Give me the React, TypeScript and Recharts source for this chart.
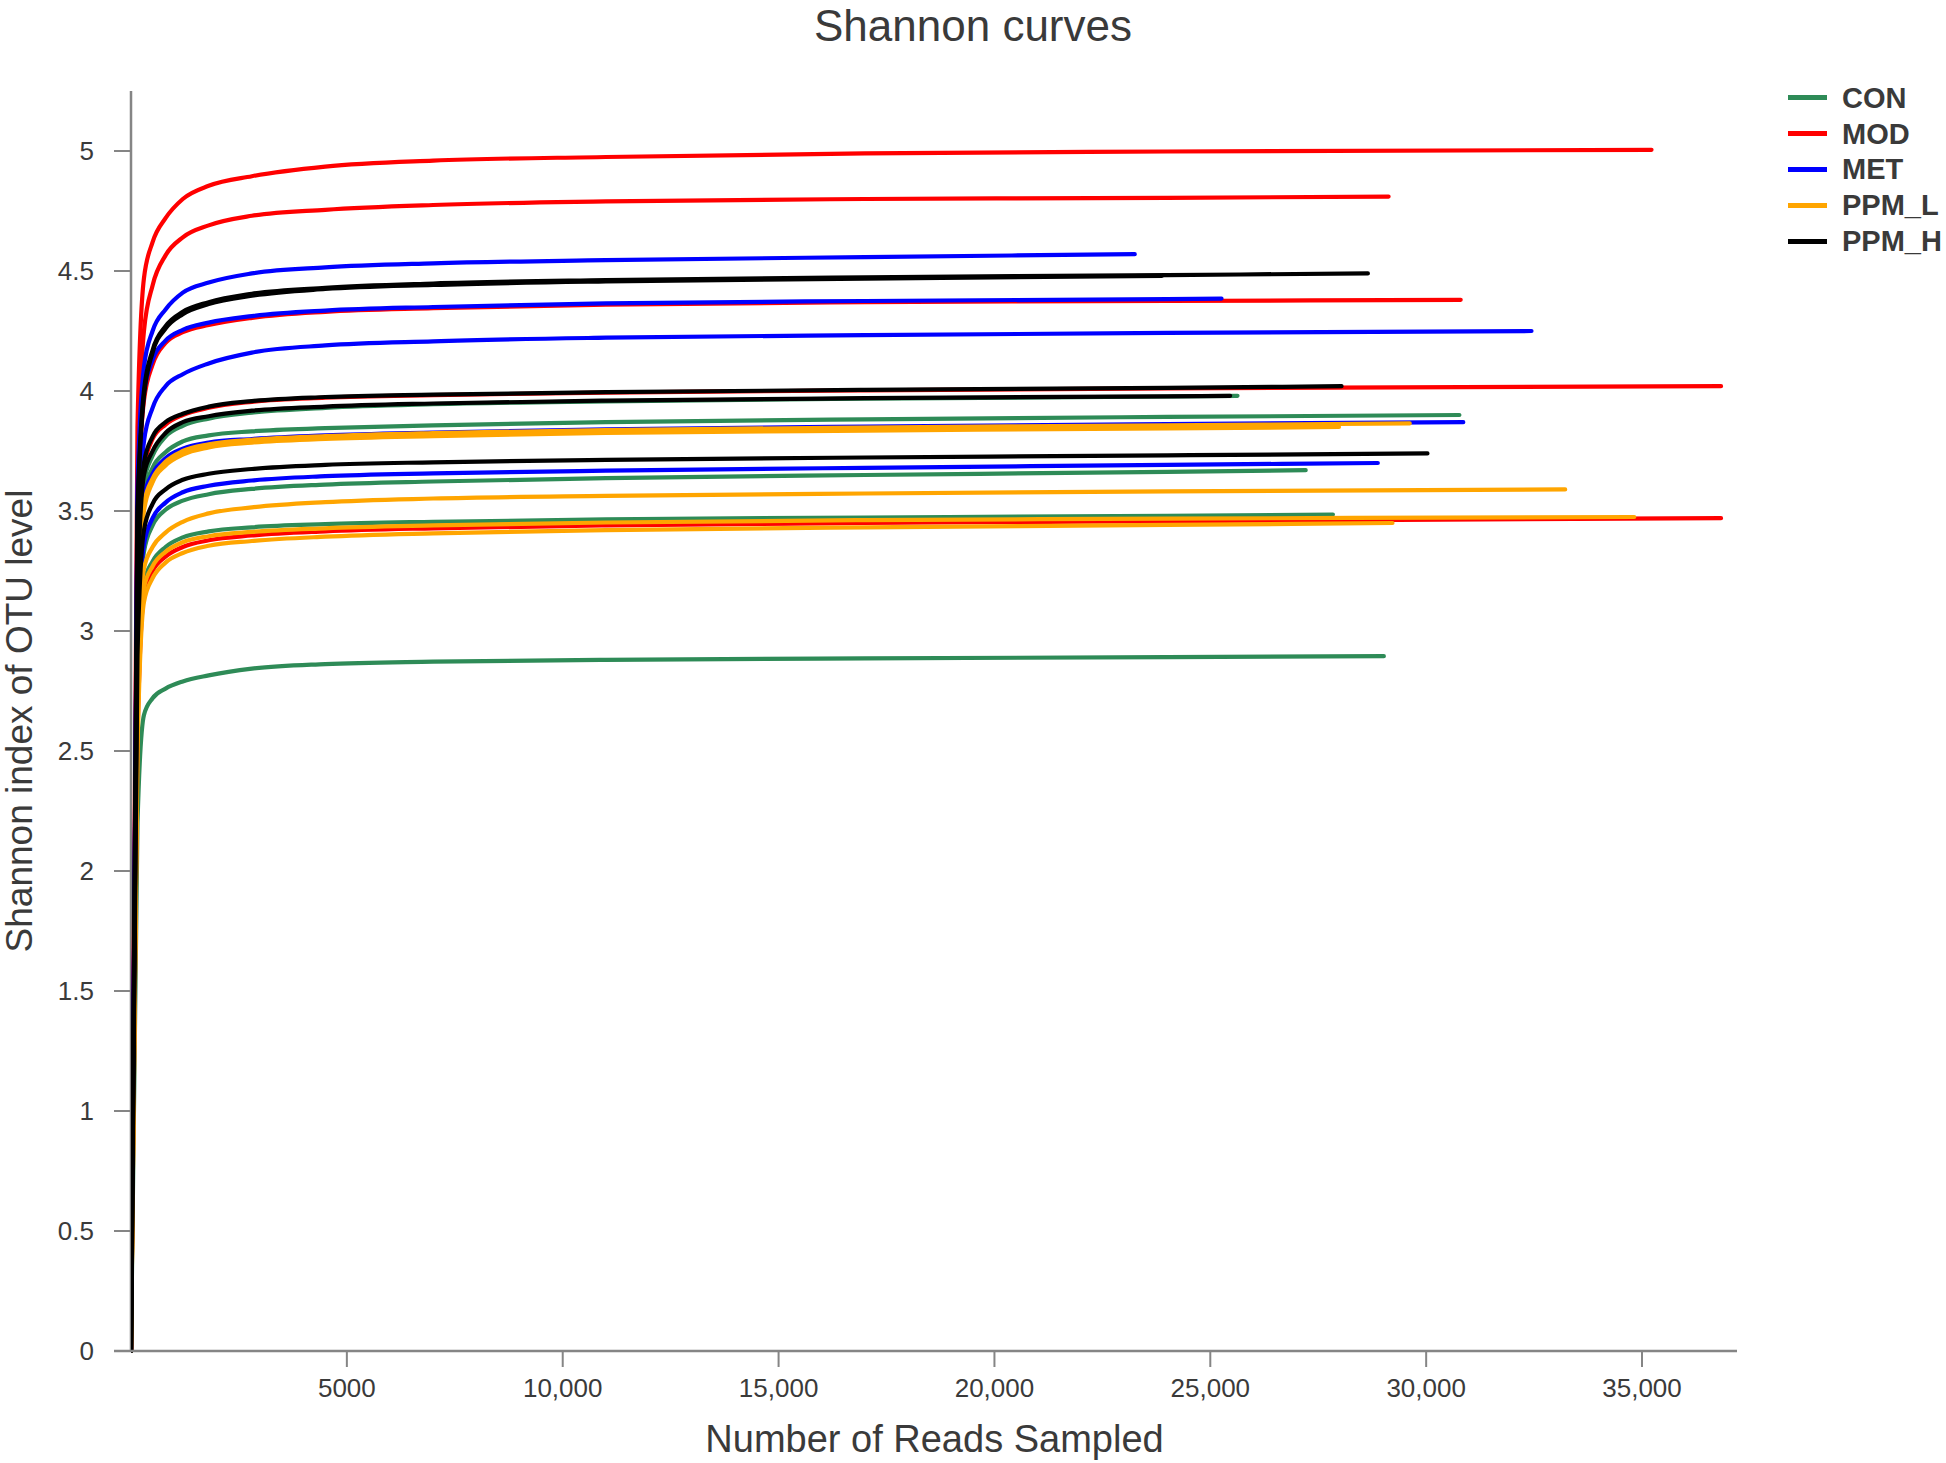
import { LineChart, Line, XAxis, YAxis, ReferenceLine, Label } from 'recharts';

const FONT = '"Liberation Sans", Arial, Helvetica, sans-serif';
const AXIS_COLOR = '#858585';
const TEXT_COLOR = '#3a3a3a';

const GROUPS = ['CON', 'MOD', 'MET', 'PPM_L', 'PPM_H'];
const GROUP_COLORS = ['#2e8b57', '#ff0000', '#0000ff', '#ffa500', '#000000'];

// reads sampled at each rarefaction step (the last point of a curve is its own depth)
const READS = [0, 150, 300, 500, 800, 1200, 1800, 2800, 4500, 7000, 11000, 17000, 24000];

const CON_DEPTH = [25630, 30770, 27210, 27840, 29020];
const CON_SHANNON = [
  [0, 3.1, 3.62, 3.73, 3.81, 3.855, 3.885, 3.91, 3.93, 3.945, 3.957, 3.968, 3.977, 3.98],
  [0, 3.05, 3.57, 3.68, 3.745, 3.79, 3.815, 3.832, 3.845, 3.857, 3.87, 3.882, 3.892, 3.9],
  [0, 2.8, 3.33, 3.44, 3.505, 3.543, 3.57, 3.592, 3.61, 3.623, 3.637, 3.65, 3.663, 3.67],
  [0, 2.7, 3.2, 3.29, 3.35, 3.39, 3.415, 3.432, 3.445, 3.455, 3.465, 3.473, 3.48, 3.485],
  [0, 2.2, 2.65, 2.72, 2.76, 2.79, 2.815, 2.843, 2.862, 2.872, 2.88, 2.886, 2.891, 2.895],
];

const MOD_DEPTH = [35220, 29130, 30800, 36830, 36830];
const MOD_SHANNON = [
  [0, 3.85, 4.47, 4.62, 4.72, 4.8, 4.855, 4.895, 4.935, 4.96, 4.975, 4.99, 4.998, 5.005],
  [0, 3.6, 4.25, 4.44, 4.565, 4.64, 4.69, 4.73, 4.755, 4.775, 4.79, 4.8, 4.805, 4.81],
  [0, 3.45, 3.96, 4.11, 4.2, 4.245, 4.275, 4.305, 4.33, 4.345, 4.36, 4.37, 4.375, 4.38],
  [0, 3.15, 3.68, 3.8, 3.86, 3.9, 3.93, 3.955, 3.972, 3.983, 3.993, 4.003, 4.011, 4.02],
  [0, 2.55, 3.15, 3.25, 3.31, 3.35, 3.378, 3.398, 3.415, 3.428, 3.44, 3.45, 3.458, 3.47],
];

const MET_DEPTH = [23250, 25260, 32440, 30860, 28880];
const MET_SHANNON = [
  [0, 3.6, 4.1, 4.25, 4.34, 4.41, 4.452, 4.49, 4.515, 4.532, 4.545, 4.558, 4.57],
  [0, 3.5, 3.99, 4.13, 4.21, 4.255, 4.285, 4.312, 4.335, 4.35, 4.365, 4.375, 4.383, 4.385],
  [0, 3.2, 3.79, 3.93, 4.02, 4.07, 4.115, 4.16, 4.19, 4.207, 4.222, 4.233, 4.242, 4.25],
  [0, 3.0, 3.56, 3.655, 3.72, 3.76, 3.785, 3.8, 3.815, 3.827, 3.84, 3.852, 3.862, 3.87],
  [0, 2.85, 3.36, 3.47, 3.535, 3.578, 3.605, 3.627, 3.645, 3.657, 3.668, 3.68, 3.692, 3.7],
];

const PPM_L_DEPTH = [29620, 27980, 33220, 34820, 29220];
const PPM_L_SHANNON = [
  [0, 2.95, 3.53, 3.635, 3.705, 3.75, 3.778, 3.797, 3.812, 3.825, 3.837, 3.848, 3.857, 3.865],
  [0, 2.9, 3.5, 3.62, 3.69, 3.735, 3.765, 3.785, 3.8, 3.812, 3.825, 3.835, 3.844, 3.85],
  [0, 2.75, 3.26, 3.35, 3.41, 3.455, 3.49, 3.515, 3.537, 3.552, 3.563, 3.573, 3.582, 3.59],
  [0, 2.6, 3.18, 3.27, 3.33, 3.37, 3.395, 3.413, 3.428, 3.44, 3.452, 3.462, 3.468, 3.475],
  [0, 2.5, 3.12, 3.22, 3.285, 3.325, 3.355, 3.375, 3.393, 3.407, 3.42, 3.432, 3.442, 3.45],
];

const PPM_H_DEPTH = [28650, 23880, 28040, 25460, 30030];
const PPM_H_SHANNON = [
  [0, 3.5, 4.0, 4.17, 4.27, 4.33, 4.37, 4.405, 4.43, 4.448, 4.462, 4.474, 4.483, 4.49],
  [0, 3.45, 3.98, 4.16, 4.26, 4.32, 4.362, 4.397, 4.425, 4.442, 4.457, 4.468, 4.48],
  [0, 3.2, 3.7, 3.81, 3.87, 3.905, 3.935, 3.958, 3.975, 3.985, 3.995, 4.005, 4.013, 4.02],
  [0, 3.15, 3.65, 3.75, 3.825, 3.87, 3.895, 3.918, 3.935, 3.948, 3.96, 3.97, 3.978, 3.98],
  [0, 2.9, 3.42, 3.53, 3.59, 3.63, 3.655, 3.675, 3.692, 3.703, 3.713, 3.723, 3.732, 3.74],
];

const X_TICKS = [5000, 10000, 15000, 20000, 25000, 30000, 35000];
const X_TICK_LABELS = ['5000', '10,000', '15,000', '20,000', '25,000', '30,000', '35,000'];
const Y_TICKS = [0, 0.5, 1, 1.5, 2, 2.5, 3, 3.5, 4, 4.5, 5];
const Y_TICK_LABELS = ['0', '0.5', '1', '1.5', '2', '2.5', '3', '3.5', '4', '4.5', '5'];

const DEPTHS = [CON_DEPTH, MOD_DEPTH, MET_DEPTH, PPM_L_DEPTH, PPM_H_DEPTH];
const SHANNON = [CON_SHANNON, MOD_SHANNON, MET_SHANNON, PPM_L_SHANNON, PPM_H_SHANNON];

function buildCurve(depth: number, values: number[]) {
  const points = READS.filter((r) => r < depth).map((r, i) => ({ reads: r, shannon: values[i] }));
  points.push({ reads: depth, shannon: values[values.length - 1] });
  return points;
}

const SERIES = GROUPS.flatMap((group, gi) =>
  DEPTHS[gi].map((depth, i) => ({
    key: `${group}-${i + 1}`,
    color: GROUP_COLORS[gi],
    data: buildCurve(depth, SHANNON[gi][i]),
  }))
);

function YTick({ x, y, payload }: any) {
  const idx = Y_TICKS.indexOf(payload.value);
  return (
    <g>
      <line x1={x} x2={x + 17} y1={y} y2={y} stroke={AXIS_COLOR} strokeWidth={2} />
      <text
        x={x - 20}
        y={y}
        dy="0.36em"
        textAnchor="end"
        fill={TEXT_COLOR}
        style={{ fontFamily: FONT, fontSize: 26 }}
      >
        {Y_TICK_LABELS[idx]}
      </text>
    </g>
  );
}

export default function App() {
  return (
    <div style={{ position: 'absolute', left: 0, top: 0, width: 1946, height: 1463, background: '#fff', fontFamily: FONT }}>
      <div
        style={{
          position: 'absolute',
          top: 3,
          left: 0,
          width: 1946,
          textAlign: 'center',
          fontSize: 44,
          lineHeight: '46px',
          color: TEXT_COLOR,
        }}
      >
        Shannon curves
      </div>

      <LineChart
        width={1946}
        height={1463}
        margin={{ top: 91, right: 209, left: 0, bottom: 0 }}
        style={{ position: 'absolute', left: 0, top: 0 }}
      >
        <XAxis
          dataKey="reads"
          type="number"
          domain={[0, 37200]}
          ticks={X_TICKS}
          tickFormatter={(v: number) => X_TICK_LABELS[X_TICKS.indexOf(v)]}
          padding={{ left: 17, right: 0 }}
          height={112}
          allowDataOverflow
          stroke={AXIS_COLOR}
          axisLine={{ stroke: AXIS_COLOR, strokeWidth: 2.5 }}
          tickLine={{ stroke: AXIS_COLOR, strokeWidth: 2 }}
          tickSize={16}
          tickMargin={12}
          tick={{ fill: TEXT_COLOR, fontSize: 26, fontFamily: FONT }}
        >
          <Label
            value="Number of Reads Sampled"
            position="insideBottom"
            offset={11}
            dx={9}
            style={{ fontSize: 38, fontFamily: FONT, fill: TEXT_COLOR }}
          />
        </XAxis>
        <YAxis
          type="number"
          domain={[0, 5.25]}
          ticks={Y_TICKS}
          width={114}
          axisLine={false}
          tickLine={false}
          tickSize={0}
          tickMargin={0}
          tick={<YTick />}
        >
          <Label
            value="Shannon index of OTU level"
            angle={-90}
            position="insideLeft"
            offset={19}
            style={{ fontSize: 37, fontFamily: FONT, fill: TEXT_COLOR, textAnchor: 'middle' }}
          />
        </YAxis>
        <ReferenceLine x={0} stroke={AXIS_COLOR} strokeWidth={2.5} />
        {SERIES.map((s) => (
          <Line
            key={s.key}
            data={s.data}
            dataKey="shannon"
            name={s.key}
            type="monotone"
            stroke={s.color}
            strokeWidth={4.2}
            strokeLinecap="round"
            dot={false}
            activeDot={false}
            isAnimationActive={false}
          />
        ))}
      </LineChart>

      <div style={{ position: 'absolute', left: 1788, top: 80 }}>
        {GROUPS.map((g, i) => (
          <div key={g} style={{ display: 'flex', alignItems: 'center', height: 35.8 }}>
            <div style={{ width: 39, height: 5, background: GROUP_COLORS[i] }} />
            <span
              style={{
                marginLeft: 15,
                fontSize: 29,
                fontWeight: 'bold',
                color: TEXT_COLOR,
                lineHeight: '30px',
              }}
            >
              {g}
            </span>
          </div>
        ))}
      </div>
    </div>
  );
}
